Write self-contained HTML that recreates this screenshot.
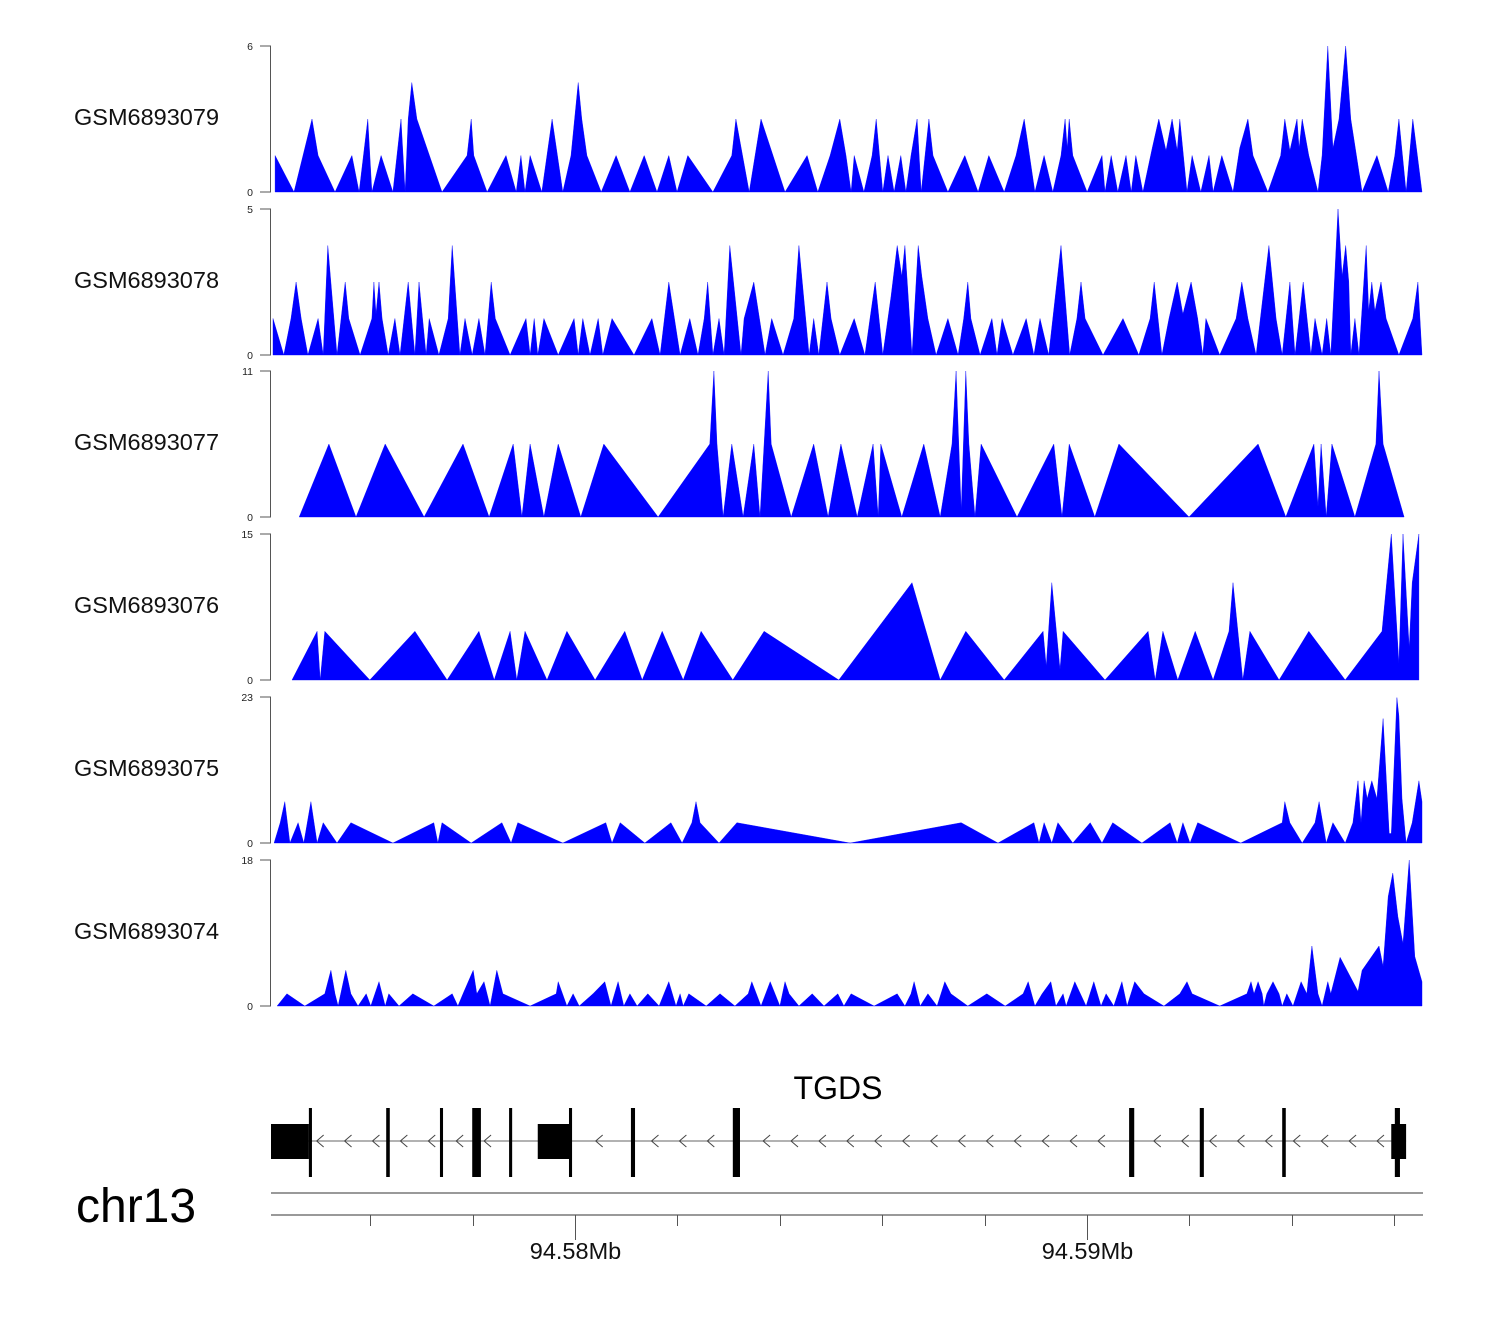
<!DOCTYPE html>
<html><head><meta charset="utf-8"><title>TGDS coverage tracks</title>
<style>
html,body{margin:0;padding:0;background:#fff;}
svg{display:block;font-family:"Liberation Sans",Arial,sans-serif;}
</style></head>
<body>
<svg id="chart" width="1500" height="1320" viewBox="0 0 1500 1320" xmlns="http://www.w3.org/2000/svg">
<rect x="0" y="0" width="1500" height="1320" fill="#fff"/>
<g id="tracks"></g>
<g id="gene"></g>
<g id="axis"></g>
<text x="76" y="1222" font-size="48" fill="#000">chr13</text>
</svg>
<script>
// positions: kb from region start (chr13:94,574,062); values: coverage
const trackNames = ["GSM6893079","GSM6893078","GSM6893077","GSM6893076","GSM6893075","GSM6893074"];
const trackMax = [6,5,11,15,23,18];

const pos79 = [0.08,0.45,0.80,0.92,1.25,1.58,1.72,1.89,1.97,2.15,2.38,2.54,2.62,2.68,2.75,2.85,3.34,3.83,3.91,3.96,4.22,4.59,4.79,4.88,4.96,5.06,5.29,5.49,5.70,5.86,6.00,6.07,6.17,6.45,6.74,7.01,7.29,7.54,7.77,7.93,8.14,8.63,9.00,9.08,9.34,9.57,10.04,10.47,10.68,10.92,11.11,11.23,11.33,
11.39,11.58,11.74,11.82,11.95,12.05,12.17,12.30,12.40,12.50,12.62,12.70,12.85,12.93,13.22,13.55,13.81,14.02,14.32,14.55,14.71,14.92,15.10,15.27,15.43,15.51,15.55,15.59,15.66,15.94,16.23,16.29,16.41,16.54,16.70,16.80,16.89,17.03,17.21,17.34,17.48,17.60,17.70,17.75,17.89,17.99,18.16,18.32,18.40,18.57,18.79,18.92,19.08,19.18,19.47,19.72,19.80,19.90,20.04,20.08,20.14,20.27,20.45,20.53,20.64,20.74,20.86,20.99,21.09,21.31,21.60,21.82,21.95,22.03,22.17,22.30,22.48];
const val79 = [1.5,0,3,1.5,0,1.5,0,3,0,1.5,0,3,0,3,4.5,3,0,1.5,3,1.5,0,1.5,0,1.5,0,1.5,0,3,0,1.5,4.5,3,1.5,0,1.5,0,1.5,0,1.5,0,1.5,0,1.5,3,0,3,0,1.5,0,1.5,3,1.5,0,
1.5,0,1.5,3,0,1.5,0,1.5,0,1.5,3,0,3,1.5,0,1.5,0,1.5,0,1.5,3,0,1.5,0,1.5,3,1.8,3,1.5,0,1.5,0,1.5,0,1.5,0,1.5,0,1.8,3,1.7,3,1.7,3,0,1.5,0,1.5,0,1.5,0,1.8,3,1.5,0,1.5,3,1.7,3,1.8,3,1.5,0,1.5,6,1.8,3,6,3,0,1.5,0,1.5,3,0,3,0];

const pos78 = [0.04,0.25,0.39,0.49,0.59,0.72,0.92,1.02,1.11,1.29,1.45,1.52,1.74,1.97,2.01,2.05,2.11,2.17,2.29,2.42,2.52,2.68,2.81,2.89,3.03,3.09,3.28,3.46,3.54,3.69,3.79,3.93,4.06,4.18,4.30,4.38,4.67,4.98,5.06,5.14,5.21,5.33,5.61,5.92,6.00,6.09,6.23,6.39,6.48,6.66,7.09,7.44,7.60,7.77,7.99,8.18,8.34,8.46,8.53,8.63,8.75,8.85,8.96,9.18,9.24,9.43,9.65,9.78,10.00,10.21,10.31,10.51,10.60,10.70,10.86,10.94,11.11,
11.39,11.60,11.70,11.80,11.95,12.11,12.23,12.32,12.38,12.52,12.64,12.71,12.83,12.99,13.22,13.42,13.53,13.61,13.67,13.85,14.08,14.18,14.28,14.49,14.75,14.90,15.02,15.19,15.43,15.60,15.74,15.82,15.90,16.25,16.64,16.95,17.17,17.25,17.40,17.54,17.70,17.81,17.97,18.10,18.20,18.26,18.53,18.85,18.96,19.08,19.24,19.49,19.63,19.75,19.90,20.00,20.16,20.31,20.39,20.53,20.62,20.70,20.84,20.92,20.99,21.05,21.09,21.17,21.25,21.39,21.44,21.50,21.56,21.68,21.78,22.03,22.30,22.40,22.48];
const val78 = [1.25,0,1.25,2.5,1.25,0,1.25,0,3.75,0,2.5,1.25,0,1.25,2.5,1.4,2.5,1.25,0,1.25,0,2.5,0,2.5,0,1.25,0,1.25,3.75,0,1.25,0,1.25,0,2.5,1.25,0,1.25,0,1.25,0,1.25,0,1.25,0,1.25,0,1.25,0,1.25,0,1.25,0,2.5,0,1.25,0,1.25,2.5,0,1.25,0,3.75,0,1.25,2.5,0,1.25,0,1.25,3.75,0,1.25,0,2.5,1.25,0,
1.25,0,1.25,2.5,0,2.0,3.75,2.7,3.75,0,3.75,2.7,1.25,0,1.25,0,1.25,2.5,1.25,0,1.25,0,1.25,0,1.25,0,1.25,0,3.75,0,1.25,2.5,1.25,0,1.25,0,1.25,2.5,0,1.25,2.5,1.4,2.5,1.25,0,1.25,0,1.25,2.5,1.25,0,3.75,1.25,0,2.5,0,2.5,0,1.25,0,1.25,0,5,2.7,3.75,2.5,0,1.25,0,3.75,1.5,2.5,1.5,2.5,1.25,0,1.25,2.5,0];

const pos77 = [0.55,1.13,1.66,2.23,2.99,3.75,4.26,4.73,4.90,5.06,5.33,5.61,6.05,6.50,7.56,8.57,8.65,8.71,8.83,9.00,9.22,9.43,9.55,9.71,9.77,10.16,10.60,10.88,11.13,11.45,11.76,11.86,11.91,12.32,12.75,13.07,13.30,13.38,13.48,13.57,13.63,13.75,13.87,14.57,15.29,15.45,15.59,16.09,16.56,17.93,19.28,19.82,20.37,20.45,20.51,20.61,20.72,21.17,21.58,21.64,21.72,22.13];
const val77 = [0,5.5,0,5.5,0,5.5,0,5.5,0,5.5,0,5.5,0,5.5,0,5.5,11,5.5,0,5.5,0,5.5,0,11,5.5,0,5.5,0,5.5,0,5.5,0,5.5,0,5.5,0,5.5,11,0.5,11,5.5,0,5.5,0,5.5,0,5.5,0,5.5,0,5.5,0,5.5,0.8,5.5,0,5.5,0,5.5,11,5.5,0];

const pos76 = [0.41,0.90,0.96,1.05,1.93,2.81,3.44,4.06,4.36,4.67,4.80,4.96,5.39,5.78,6.33,6.91,7.25,7.64,8.05,8.40,9.02,9.63,11.09,12.52,13.07,13.57,14.32,15.08,15.14,15.25,15.41,15.47,16.29,17.13,17.27,17.42,17.71,18.05,18.40,18.71,18.79,18.98,19.12,19.69,20.27,20.98,21.70,21.88,22.03,22.11,22.23,22.29,22.42,22.42];
const val76 = [0,5,0,5,0,5,0,5,0,5,0,5,0,5,0,5,0,5,0,5,0,5,0,10,0,5,0,5,1.4,10,1.1,5,0,5,0,5,0,5,0,5,10,0,5,0,5,0,5,15,1.7,15,3.3,10,15,0];

const pos75 = [0.06,0.18,0.27,0.37,0.53,0.64,0.78,0.90,1.02,1.29,1.56,2.38,3.18,3.26,3.34,3.91,4.51,4.69,4.82,5.70,6.54,6.66,6.82,7.30,7.81,8.03,8.22,8.30,8.38,8.75,9.10,11.31,13.48,14.20,14.90,15.00,15.10,15.25,15.37,15.66,16.00,16.23,16.44,17.01,17.56,17.70,17.81,17.95,18.10,18.94,19.75,19.80,19.90,20.14,20.39,20.47,20.61,20.74,20.98,21.13,21.23,21.29,21.35,21.41,21.50,21.60,21.72,21.84,21.88,21.99,22.03,22.09,22.17,22.29,22.42,22.48];
const val75 = [0,3.2,6.5,0,3.2,0,6.5,0,3.2,0,3.2,0,3.2,0,3.2,0,3.2,0,3.2,0,3.2,0,3.2,0,3.2,0,3.2,6.5,3.2,0,3.2,0,3.2,0,3.2,0,3.2,0,3.2,0,3.2,0,3.2,0,3.2,0,3.2,0,3.2,0,3.2,6.5,3.2,0,3.2,6.5,0,3.2,0,3.2,9.8,3.2,9.8,7.0,9.8,7.0,19.6,1.5,1.5,22.9,20,7,0,3.2,9.8,6.5];

const pos74 = [0.12,0.31,0.66,1.05,1.17,1.25,1.31,1.46,1.56,1.70,1.86,1.95,2.11,2.23,2.30,2.50,2.77,3.18,3.54,3.65,3.75,3.95,4.02,4.16,4.28,4.41,4.53,5.06,5.57,5.61,5.78,5.90,6.02,6.29,6.52,6.64,6.78,6.89,7.01,7.15,7.36,7.58,7.77,7.91,7.99,8.05,8.16,8.50,8.77,9.06,9.32,9.39,9.57,9.75,9.94,10.04,10.12,10.31,10.57,10.80,11.07,11.19,11.33,11.78,12.23,12.38,12.50,12.56,12.68,12.83,13.01,13.16,13.28,13.61,13.98,14.34,14.69,14.79,14.92,15.06,15.23,15.33,15.47,15.53,15.70,15.92,16.07,16.21,16.31,16.46,16.62,16.72,16.87,17.05,17.44,17.75,17.89,17.99,18.53,19.06,19.14,19.20,19.28,19.36,19.39,19.45,19.57,19.69,19.75,19.84,19.96,20.12,20.23,20.33,20.45,20.53,20.64,20.70,20.88,21.23,21.31,21.64,21.72,21.82,21.91,22.01,22.11,22.23,22.34,22.48];
const val74 = [0,1.5,0,1.5,4.4,1.5,0,4.4,1.5,0,1.5,0,3,0,1.5,0,1.5,0,1.5,0,1.5,4.4,1.5,3,0,4.4,1.5,0,1.5,3,0,1.5,0,1.5,3,0,3,0,1.5,0,1.5,0,3,0,1.5,0,1.5,0,1.5,0,1.5,3,0,3,0,3,1.5,0,1.5,0,1.5,0,1.5,0,1.5,0,1.5,3,0,1.5,0,3,1.5,0,1.5,0,1.5,3,0,1.5,3,0,1.5,0,3,0,3,0,1.5,0,3,0,3,1.5,0,1.5,3,1.5,0,1.5,3,1.5,3,1.5,0,1.5,3,1.5,0,1.5,0,3,1.5,7.4,1.5,0,3,1.5,6,1.8,4.4,7.4,4.9,13.5,16.4,11,7.7,18,6.1,3];

const positions = [pos79,pos78,pos77,pos76,pos75,pos74];
const values = [val79,val78,val77,val76,val75,val74];

// gene model (kb from region start)
const exonStart = [0.00,0.74,2.25,3.30,3.93,4.65,5.21,5.82,7.03,9.02,16.76,18.14,19.75,21.88,21.95];
const exonEnd   = [0.74,0.80,2.32,3.36,4.10,4.71,5.84,5.88,7.11,9.16,16.86,18.22,19.82,22.17,22.05];
const exonTall  = [0,1,1,1,1,1,0,1,1,1,1,1,1,0,1];
const geneStartKb = 0.0, geneEndKb = 22.17;
// axis ticks (kb genomic)
const tickKb = [94576,94578,94580,94582,94584,94586,94588,94590,94592,94594,94596];
const tickLabelKb = [94580,94590];
const regionStartKb = 94574.0625;

// ---- scales / layout ----
const X0 = 271, PXPERKB = 51.2, XEND = 1422;
function xScale(kb){ return X0 + kb * PXPERKB; }
const trackTop = [46,209,371,534,697,860];
const trackH = 146;
function yScale(i, v){ return trackTop[i] + trackH - (v / trackMax[i]) * trackH; }

const NS = "http://www.w3.org/2000/svg";
function mk(tag, attrs, parent){
  const e = document.createElementNS(NS, tag);
  for (const k in attrs) e.setAttribute(k, attrs[k]);
  parent.appendChild(e);
  return e;
}

const gT = document.getElementById('tracks');
const defs = mk('defs', {}, gT);
const cp = mk('clipPath', {id:'plotclip'}, defs);
mk('rect', {x: X0, y: 0, width: XEND - X0 + 1, height: 1320}, cp);

for (let i = 0; i < trackNames.length; i++) {
  const g = mk('g', {}, gT);
  
  
  const base = trackTop[i] + trackH;
  const P = positions[i], V = values[i];
  const n = Math.min(P.length, V.length);
  let pts = [];
  pts.push(xScale(P[0]).toFixed(1) + ',' + base);
  for (let j = 0; j < n; j++) pts.push(xScale(P[j]).toFixed(1) + ',' + yScale(i, V[j]).toFixed(1));
  pts.push(xScale(P[n-1]).toFixed(1) + ',' + base);
  const poly = mk('polygon', {points: pts.join(' '), fill: '#0000ff', stroke: '#0000ff', 'stroke-width': '0.4', 'clip-path': 'url(#plotclip)'}, g);
  
  

  const lab = mk('text', {x: 74, y: trackTop[i] + trackH/2 + 6, 'font-size': 23.5, fill: '#111'}, g);
  lab.textContent = trackNames[i];
  
  

  const ax = mk('path', {d: 'M260,' + trackTop[i] + ' H270.5 V' + base + ' H260', fill: 'none', stroke: '#555', 'stroke-width': 1}, g);
  
  
  const tmax = mk('text', {x: 253, y: trackTop[i] + 4, 'font-size': 10.5, 'text-anchor': 'end', fill: '#222'}, g);
  tmax.textContent = String(trackMax[i]);
  
  
  const t0 = mk('text', {x: 253, y: base + 4, 'font-size': 10.5, 'text-anchor': 'end', fill: '#222'}, g);
  t0.textContent = '0';
  
  
}

// ---- gene ----
const gG = document.getElementById('gene');
const midY = 1141;
const intron = mk('line', {x1: xScale(geneStartKb), x2: xScale(geneEndKb), y1: midY, y2: midY, stroke: '#666', 'stroke-width': 1}, gG);


for (let kb = 0.95; kb < 21.8; kb += 0.545) {
  let skip = false;
  for (let e = 0; e < exonStart.length; e++) if (kb > exonStart[e] - 0.12 && kb < exonEnd[e] + 0.1) skip = true;
  if (skip) continue;
  const x = xScale(kb);
  const ch = mk('polyline', {points: (x+4)+','+(midY-6)+' '+(x-3)+','+midY+' '+(x+4)+','+(midY+6), fill: 'none', stroke: '#444', 'stroke-width': 1}, gG);
  
  
}
for (let e = 0; e < exonStart.length; e++) {
  const x1 = xScale(exonStart[e]), x2 = xScale(exonEnd[e]);
  const tall = exonTall[e] === 1;
  const r = mk('rect', {x: x1, y: tall ? 1108 : 1124, width: Math.max(2, x2 - x1), height: tall ? 69 : 35, fill: '#000'}, gG);
  
  
}
const gl = mk('text', {x: 838, y: 1099, 'font-size': 32, 'text-anchor': 'middle', fill: '#000'}, gG);
gl.textContent = 'TGDS';



// ---- axis ----
const gA = document.getElementById('axis');
const l1 = mk('line', {x1: X0, x2: 1423, y1: 1193, y2: 1193, stroke: '#333', 'stroke-width': 1}, gA);


const l2 = mk('line', {x1: X0, x2: 1423, y1: 1215, y2: 1215, stroke: '#333', 'stroke-width': 1}, gA);


for (let t = 0; t < tickKb.length; t++) {
  const x = Math.round(xScale(tickKb[t] - regionStartKb)) + 0.5;
  const major = tickLabelKb.indexOf(tickKb[t]) >= 0;
  const tk = mk('line', {x1: x, x2: x, y1: 1215, y2: major ? 1240 : 1226, stroke: '#555', 'stroke-width': 1}, gA);
  
  
  if (major) {
    const tl = mk('text', {x: x, y: 1259, 'font-size': 23.5, 'text-anchor': 'middle', fill: '#111'}, gA);
    tl.textContent = (tickKb[t] / 1000).toFixed(2) + 'Mb';
    
    
  }
}
</script>
</body></html>
